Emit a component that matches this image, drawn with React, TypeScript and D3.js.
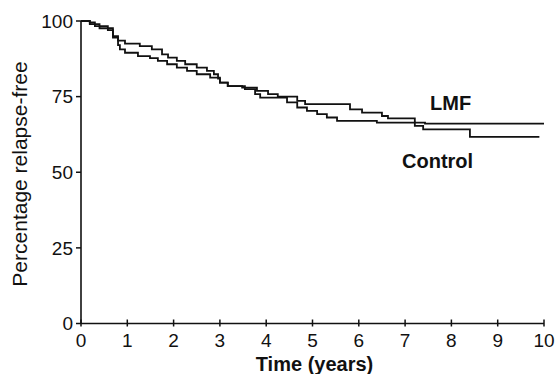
import React from "react";
import * as d3 from "d3";

const xTicks = [0, 1, 2, 3, 4, 5, 6, 7, 8, 9, 10];
const yTicks = [0, 25, 50, 75, 100];

// Kaplan-Meier step points: [time (years), percentage relapse-free]
const lmfTimes = [0, 0.19, 0.3, 0.58, 0.69, 0.8, 0.95, 1.27, 1.53, 1.75, 1.88, 2.07, 2.25, 2.5, 2.72, 2.87, 2.96, 3.0, 3.17, 3.48, 3.8, 4.04, 4.25, 4.67, 4.84, 5.81, 6.07, 6.5, 6.63, 7.21, 7.43, 10];
const lmfValues = [100, 99.5, 98.3, 97, 95, 93.5, 92.5, 91.7, 90.6, 89, 87.9, 86.8, 85.7, 84.6, 83.5, 82.4, 81, 79.6, 78.5, 78, 76.9, 75.8, 75, 73.6, 72.5, 70.8, 69.7, 68.6, 67.8, 66.4, 66.1, 66.1];

const controlTimes = [0, 0.19, 0.4, 0.69, 0.8, 0.84, 0.95, 1.23, 1.49, 1.66, 1.86, 2.07, 2.29, 2.5, 2.79, 3.0, 3.17, 3.54, 3.76, 3.87, 4.45, 4.67, 4.88, 5.1, 5.31, 5.53, 6.39, 7.21, 7.39, 8.4, 9.9];
const controlValues = [100, 99, 97.6, 94.5, 92, 90.6, 89.5, 88.4, 87.7, 86.8, 85.7, 84.6, 83.5, 82.4, 81.3, 79.6, 78.5, 77.5, 75.8, 74.7, 73.1, 71.4, 70.3, 69.2, 68.1, 67, 66.4, 65.3, 64.2, 61.7, 61.7];

const seriesLabels = ["LMF", "Control"];
const xTitle = "Time (years)";
const yTitle = "Percentage relapse-free";

const W = 555;
const H = 374;
const FONT = "'Liberation Sans', Arial, Helvetica, sans-serif";

export default function App() {
  const x = d3.scaleLinear().domain([0, 10]).range([81, 544]);
  const y = d3.scaleLinear().domain([0, 100]).range([323.5, 21]);

  const line = d3
    .line<[number, number]>()
    .x((d) => x(d[0]))
    .y((d) => y(d[1]))
    .curve(d3.curveStepAfter);

  const lmf: [number, number][] = lmfTimes.map((t, i) => [t, lmfValues[i]]);
  const control: [number, number][] = controlTimes.map((t, i) => [t, controlValues[i]]);

  return (
    <svg
      width={W}
      height={H}
      viewBox={`0 0 ${W} ${H}`}
      style={{ position: "absolute", left: 0, top: 0, background: "#fff" }}
    >
      <rect x={0} y={0} width={W} height={H} fill="#fff" />
      {/* axes */}
      <line x1={x(0)} x2={x(0)} y1={y(100)} y2={y(0)} stroke="#111" strokeWidth={1.6} />
      <line x1={x(0)} x2={x(10)} y1={y(0)} y2={y(0)} stroke="#111" strokeWidth={1.6} />
      {yTicks.map((v) => (
        <g key={"y" + v}>
          <line x1={x(0) - 5} x2={x(0)} y1={y(v)} y2={y(v)} stroke="#111" strokeWidth={1.5} />
          <text
            x={x(0) - 8}
            y={y(v)}
            dy="0.35em"
            textAnchor="end"
            fontFamily={FONT}
            fontSize={19}
            fill="#111"
          >
            {v}
          </text>
        </g>
      ))}
      {xTicks.map((v) => (
        <g key={"x" + v}>
          <line x1={x(v)} x2={x(v)} y1={y(0) - 4} y2={y(0) + 3} stroke="#111" strokeWidth={1.5} />
          <text
            x={x(v)}
            y={347}
            textAnchor="middle"
            fontFamily={FONT}
            fontSize={19}
            fill="#111"
          >
            {v}
          </text>
        </g>
      ))}
      {/* curves */}
      <path d={line(lmf) || ""} fill="none" stroke="#111" strokeWidth={1.8} />
      <path d={line(control) || ""} fill="none" stroke="#111" strokeWidth={1.8} />
      {/* labels */}
      <text x={430} y={110} fontFamily={FONT} fontSize={20} fontWeight="bold" fill="#111">
        {seriesLabels[0]}
      </text>
      <text x={402} y={168} fontFamily={FONT} fontSize={20} fontWeight="bold" fill="#111">
        {seriesLabels[1]}
      </text>
      <text
        x={(x(0) + x(10)) / 2 + 2}
        y={371}
        textAnchor="middle"
        fontFamily={FONT}
        fontSize={20}
        fontWeight="bold"
        fill="#111"
      >
        {xTitle}
      </text>
      <text
        transform={`translate(27, ${174}) rotate(-90)`}
        textAnchor="middle"
        fontFamily={FONT}
        fontSize={21}
        fill="#111"
      >
        {yTitle}
      </text>
    </svg>
  );
}
